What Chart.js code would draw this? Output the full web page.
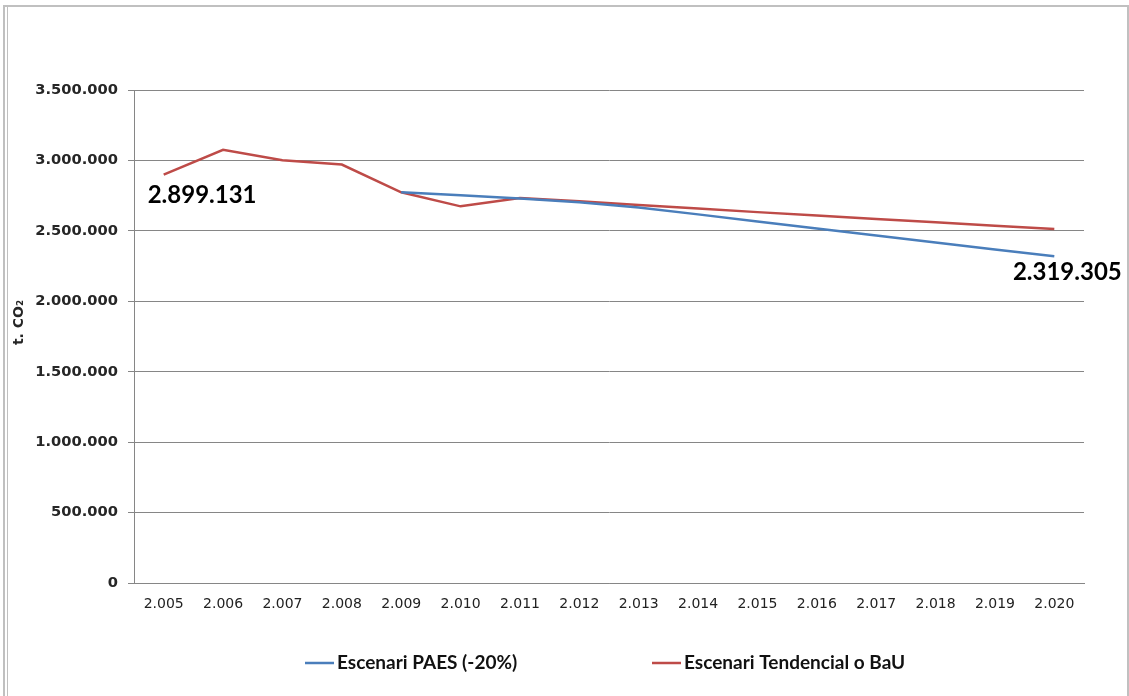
<!DOCTYPE html>
<html>
<head>
<meta charset="utf-8">
<script src="https://cdn.jsdelivr.net/npm/chart.js@4.4.1/dist/chart.umd.min.js"></script>
<style>
  html, body { margin: 0; padding: 0; background: #fff; }
  #wrap { position: relative; width: 1129px; height: 696px; overflow: hidden; }
  #c { position: absolute; left: 0; top: 0; }
  .b1 { position: absolute; left: 3px; top: 5px; width: 1122px; height: 700px;
        border-top: 2px solid #c0c0c0; border-left: 2px solid #c0c0c0; border-right: 2px solid #c0c0c0; }
  .b2 { position: absolute; left: 7px; top: 7px; width: 1px; height: 700px; background: #c0c0c0; }
</style>
</head>
<body>
<div id="wrap">
  <canvas id="c" width="1129" height="696"></canvas>
  <div class="b1"></div>
  <div class="b2"></div>
</div>
<script>
const years = ['2.005','2.006','2.007','2.008','2.009','2.010','2.011','2.012','2.013','2.014','2.015','2.016','2.017','2.018','2.019','2.020'];
const paesLabel = 'Escenari PAES (-20%)';
const bauLabel = 'Escenari Tendencial o BaU';
const paesValues = [null, null, null, null, 2774000, 2752000, 2729000, 2703000, 2665000, 2617000, 2566000, 2516000, 2467000, 2418000, 2368000, 2319305];
const bauValues = [2899131, 3075000, 3001000, 2971000, 2774000, 2674000, 2733000, 2710000, 2684000, 2658000, 2633000, 2609000, 2585000, 2561000, 2537000, 2513000];
const yTicks = [0, 500000, 1000000, 1500000, 2000000, 2500000, 3000000, 3500000];
const yTitle = 't. CO\u2082';

const fmt = v => Math.round(v).toString().replace(/\B(?=(\d{3})+(?!\d))/g, '.');

const extras = {
  id: 'extras',
  afterDatasetsDraw(chart) {
    const ctx = chart.ctx;
    ctx.save();
    // data labels
    ctx.fillStyle = '#000';
    ctx.font = 'bold 24px Lato';
    ctx.textBaseline = 'middle';
    const bauMeta = chart.getDatasetMeta(1);
    const p0 = bauMeta.data[0];
    ctx.textAlign = 'left';
    ctx.fillText(fmt(bauValues[0]), p0.x - 16, p0.y + 21);
    const paesMeta = chart.getDatasetMeta(0);
    const last = paesValues.length - 1;
    const pl = paesMeta.data[last];
    ctx.textAlign = 'center';
    ctx.fillText(fmt(paesValues[last]), pl.x + 13, pl.y + 16);

    // legend
    const items = chart.data.datasets.map(d => ({ text: d.label, color: d.borderColor }));
    const xs = [305, 652];
    const ly = 663;
    ctx.font = 'bold 19px Lato';
    ctx.textAlign = 'left';
    items.forEach((it, i) => {
      ctx.strokeStyle = it.color;
      ctx.lineWidth = 2.5;
      ctx.beginPath();
      ctx.moveTo(xs[i], ly);
      ctx.lineTo(xs[i] + 29, ly);
      ctx.stroke();
      ctx.fillStyle = '#111';
      ctx.fillText(it.text, xs[i] + 32, ly);
    });
    ctx.restore();
  }
};

new Chart(document.getElementById('c'), {
  type: 'line',
  data: {
    labels: years,
    datasets: [
      { label: paesLabel, data: paesValues, borderColor: '#4a7ebb', backgroundColor: '#4a7ebb',
        borderWidth: 2.5, pointRadius: 0, tension: 0, spanGaps: false },
      { label: bauLabel, data: bauValues, borderColor: '#be4b48', backgroundColor: '#be4b48',
        borderWidth: 2.5, pointRadius: 0, tension: 0 }
    ]
  },
  options: {
    responsive: false,
    animation: false,
    events: [],
    layout: { padding: { left: 0, top: 90, right: 45, bottom: 73 } },
    plugins: { legend: { display: false }, tooltip: { enabled: false } },
    scales: {
      x: {
        offset: true,
        grid: { display: false, drawTicks: false },
        border: { display: true, color: '#868686', width: 1 },
        ticks: { color: '#222', font: { family: 'DejaVu Sans', size: 14 }, padding: 13, maxRotation: 0, autoSkip: false },
        afterFit(s) { s.height = 40; }
      },
      y: {
        min: 0, max: 3500000,
        afterBuildTicks(s) { s.ticks = yTicks.map(v => ({ value: v })); },
        grid: { color: '#868686', lineWidth: 1, tickLength: 6, drawOnChartArea: true },
        border: { display: true, color: '#868686', width: 1 },
        ticks: { color: '#262626', font: { family: 'DejaVu Sans', size: 14.7, weight: 'bold' }, padding: 10,
                 callback: v => fmt(v) },
        title: { display: true, text: '\u2003\u2003' + yTitle, color: '#262626',
                 font: { family: 'DejaVu Sans', size: 14, weight: 'bold' }, padding: { top: 11, bottom: 0 } },
        afterFit(s) { s.width = 134; }
      }
    }
  },
  plugins: [extras]
});
</script>
</body>
</html>
